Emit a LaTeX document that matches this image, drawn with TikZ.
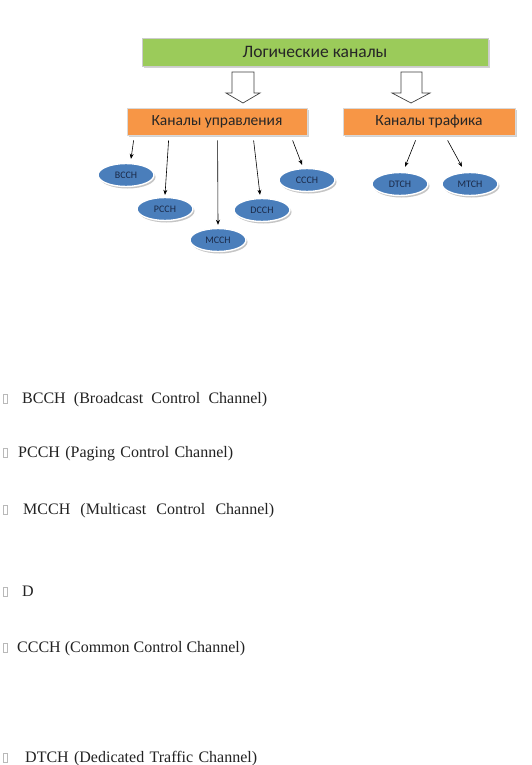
\documentclass[tikz,border=0pt]{standalone}
\usepackage{fontspec}
\setmainfont{Liberation Serif}
\newfontfamily\boxfont{Carlito}
\usetikzlibrary{shadows,calc,arrows.meta,shapes.geometric}
\definecolor{greenfill}{HTML}{9BCB5A}
\definecolor{orangefill}{HTML}{F79646}
\definecolor{bluefill}{HTML}{4A7EBB}
\definecolor{navytext}{HTML}{1B2A48}
\definecolor{bodytext}{HTML}{222222}
\tikzset{
  headbox/.style={draw=gray!40, line width=0.8pt, fill=greenfill, minimum width=346pt, minimum height=28pt,
    inner sep=0pt, font=\boxfont\fontsize{17.5}{20}\selectfont, text=black!85,
    drop shadow={shadow xshift=2pt, shadow yshift=-2pt, opacity=0.35}},
  groupbox/.style={draw=gray!30, line width=0.8pt, fill=orangefill, minimum height=27pt, inner sep=0pt,
    font=\boxfont\fontsize{15.5}{18}\selectfont, text=black!85,
    drop shadow={shadow xshift=2pt, shadow yshift=-2pt, opacity=0.35}},
  chan/.style={ellipse, draw=white, line width=1.4pt, fill=bluefill, minimum width=56pt, minimum height=23pt,
    inner sep=0pt, font=\boxfont\fontsize{10}{12}\selectfont, text=navytext,
    drop shadow={shadow xshift=1.5pt, shadow yshift=-2pt, opacity=0.45}},
  arr/.style={-{Stealth[length=5pt,width=4pt]}, line width=0.6pt, black},
  hollow/.style={draw=black!75, line width=0.7pt, fill=white},
  bodyline/.style={anchor=base west, inner sep=0pt, text=bodytext, font=\fontsize{16}{19}\selectfont},
  tofu/.style={draw=gray!55, line width=0.4pt}
}
\begin{document}
\begin{tikzpicture}[x=1pt,y=-1pt]
\useasboundingbox (0,0) rectangle (531,765);
\fill[white] (0,0) rectangle (531,765);

\node[headbox] (logic) at (315,52) {Логические каналы};
\node[groupbox, minimum width=180pt] (ctrl) at (217,121.5) {Каналы управления};
\node[groupbox, minimum width=172pt] (traf) at (429,121.5) {Каналы трафика};

% hollow arrows
\draw[hollow] (232,72) -- (254,72) -- (254,93) -- (260,93) -- (243,103) -- (226,93) -- (232,93) -- cycle;
\draw[hollow] (401,72) -- (422,72) -- (422,93) -- (430,93) -- (411,103) -- (392,93) -- (401,93) -- cycle;

\node[chan] (bcch) at (126,175) {BCCH};
\node[chan] (pcch) at (165,209) {PCCH};
\node[chan] (mcch) at (218,240) {MCCH};
\node[chan] (dcch) at (262,210) {DCCH};
\node[chan] (ccch) at (307,180) {CCCH};
\node[chan] (dtch) at (400,184) {DTCH};
\node[chan] (mtch) at (470,184) {MTCH};

\draw[arr] ($(ctrl.south west)+(7,5)$) -- ($(bcch.north)+(5,-4)$);
\draw[arr] ($(ctrl.south west)+(42,5)$) -- ($(pcch.north)+(0,-2)$);
\draw[arr] ($(ctrl.south west)+(91,5)$) -- ($(mcch.north)+(0,-3)$);
\draw[arr] ($(ctrl.south west)+(127,5)$) -- ($(dcch.north)+(-2,-3)$);
\draw[arr] ($(ctrl.south west)+(166,5)$) -- ($(ccch.north)+(-5,-3)$);
\draw[arr] ($(traf.south west)+(73,5)$) -- ($(dtch.north)+(5,-5)$);
\draw[arr] ($(traf.south west)+(105,5)$) -- ($(mtch.north)+(-8,-5)$);

% body text
\draw[tofu] (3,394) rectangle (7,403);
\node[bodyline] (l1) at (22,403) {\makebox[245pt][s]{BCCH\ \ (Broadcast\ \ Control\ \ Channel)}};
\draw[tofu] (3,448) rectangle (7,457);
\node[bodyline] (l2) at (18,457) {\makebox[215pt][s]{PCCH (Paging Control Channel)}};
\draw[tofu] (3,505) rectangle (7,514);
\node[bodyline] (l3) at (23,514) {\makebox[251pt][s]{MCCH\ \ (Multicast\ \ Control\ \ Channel)}};
\draw[tofu] (3,587) rectangle (7,596);
\node[bodyline] (l4) at (22,596) {D};
\draw[tofu] (3,643) rectangle (7,652);
\node[bodyline] (l5) at (17,652) {\makebox[228pt][s]{CCCH (Common Control Channel)}};
\draw[tofu] (3,753) rectangle (7,762);
\node[bodyline] (l6) at (25,762) {\makebox[232pt][s]{DTCH (Dedicated Traffic Channel)}};
\end{tikzpicture}
\end{document}
